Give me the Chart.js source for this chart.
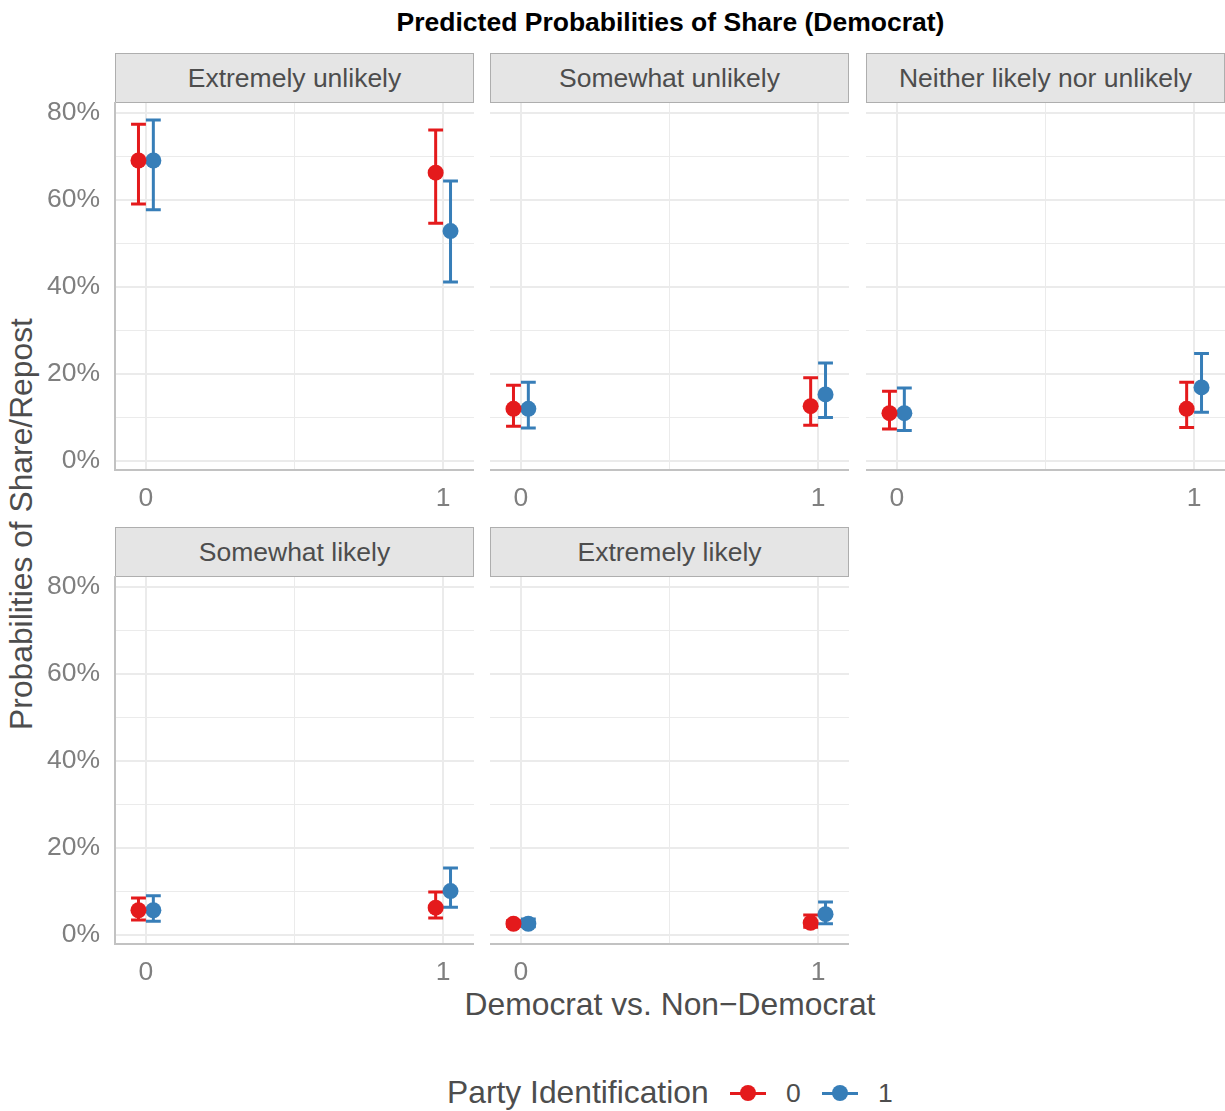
<!DOCTYPE html>
<html>
<head>
<meta charset="utf-8">
<script src="https://cdn.jsdelivr.net/npm/chart.js@4.4.1/dist/chart.umd.min.js"></script>
<style>
html,body{margin:0;padding:0;background:#fff;overflow:hidden;width:1225px;height:1111px;font-family:"Liberation Sans",Arial,sans-serif;}
canvas{position:absolute;}
.strip{position:absolute;box-sizing:border-box;background:#E5E5E5;border:1.5px solid #AEAEAE;color:#4D4D4D;font-size:26.5px;display:flex;align-items:center;justify-content:center;white-space:nowrap;}
.txt{position:absolute;white-space:nowrap;line-height:1;}
</style>
</head>
<body>
<div class="txt" id="title" style="left:0;width:1341px;top:9px;text-align:center;font-weight:bold;font-size:26.5px;color:#000;">Predicted Probabilities of Share (Democrat)</div>
<div class="txt" id="xtitle" style="left:0;width:1340px;top:989px;text-align:center;font-size:31.8px;color:#4D4D4D;">Democrat vs. Non−Democrat</div>
<div class="txt" id="ytitle" style="left:22px;top:523.5px;font-size:31.8px;color:#4D4D4D;transform:translate(-50%,-50%) rotate(-90deg);">Probabilities of Share/Repost</div>
<div id="legend"></div>
<script>
// ---------------- data ----------------
const panels = ["Extremely unlikely", "Somewhat unlikely", "Neither likely nor unlikely", "Somewhat likely", "Extremely likely"];
const xCats = [0, 1];
const partyLabels = ["0", "1"];
const xTickLabels = ["0", "1"];
const yTickLabels = ["0%", "20%", "40%", "60%", "80%"];

// party 0 (red): per panel [x=0, x=1], percent
const party0Est = [[69.0, 66.2], [12.0, 12.6], [11.0, 12.0], [5.7, 6.3], [2.6, 2.8]];
const party0Lo  = [[59.0, 54.6], [8.0, 8.2],   [7.35, 7.7], [3.45, 3.9], [2.0, 1.8]];
const party0Hi  = [[77.35, 76.0], [17.4, 19.1], [16.0, 18.1], [8.5, 9.9], [3.3, 4.6]];
// party 1 (blue)
const party1Est = [[69.0, 52.8], [12.0, 15.3], [11.0, 16.9], [5.7, 10.1], [2.6, 4.8]];
const party1Lo  = [[57.7, 41.1], [7.6, 10.0],  [7.0, 11.2],  [3.2, 6.4],  [1.9, 2.6]];
const party1Hi  = [[78.3, 64.3], [18.1, 22.5], [16.8, 24.7], [9.0, 15.4], [3.7, 7.6]];

// ---------------- styling / layout ----------------
const colors = ["#E41A1C", "#377EB8"];
const dodge = 0.025, capHalf = 0.025;
const colLeft = [115, 490, 866], plotW = 359;
const rowTop = [103, 577], plotH = 367;
const padTop = 40, xAxisH = 50, yAxisW = 115;
const est = [party0Est, party1Est], lo = [party0Lo, party1Lo], hi = [party0Hi, party1Hi];

Chart.defaults.font.family = '"Liberation Sans", Arial, sans-serif';

const errorBarPlugin = {
  id: 'errbars',
  beforeDatasetsDraw(chart) {
    const {ctx, chartArea, scales: {x, y}} = chart;
    ctx.save();
    ctx.beginPath();
    ctx.rect(chartArea.left, chartArea.top, chartArea.right - chartArea.left, chartArea.bottom - chartArea.top);
    ctx.clip();
    chart.data.datasets.forEach(ds => {
      ctx.strokeStyle = ds.borderColor;
      ctx.lineWidth = 3;
      ds.data.forEach((pt, i) => {
        const px = x.getPixelForValue(pt.x);
        const pl = x.getPixelForValue(pt.x - capHalf), pr = x.getPixelForValue(pt.x + capHalf);
        const yl = y.getPixelForValue(ds.lo[i]), yh = y.getPixelForValue(ds.hi[i]);
        ctx.beginPath();
        ctx.moveTo(px, yh); ctx.lineTo(px, yl);
        ctx.moveTo(pl, yh); ctx.lineTo(pr, yh);
        ctx.moveTo(pl, yl); ctx.lineTo(pr, yl);
        ctx.stroke();
      });
    });
    ctx.restore();
  }
};

panels.forEach((name, p) => {
  const col = p % 3, row = Math.floor(p / 3);
  const isLeft = col === 0;
  const cLeft = colLeft[col] - (isLeft ? yAxisW : 0);
  const cTop = rowTop[row] - padTop;
  const cW = (isLeft ? yAxisW : 0) + plotW;
  const cH = padTop + plotH + xAxisH;

  // strip
  const strip = document.createElement('div');
  strip.className = 'strip';
  strip.style.left = colLeft[col] + 'px';
  strip.style.top = (rowTop[row] - 50) + 'px';
  strip.style.width = plotW + 'px';
  strip.style.height = '50px';
  strip.textContent = name;
  document.body.appendChild(strip);

  const cv = document.createElement('canvas');
  cv.width = cW; cv.height = cH;
  cv.style.left = cLeft + 'px'; cv.style.top = cTop + 'px';
  cv.style.width = cW + 'px'; cv.style.height = cH + 'px';
  document.body.appendChild(cv);

  const datasets = [0, 1].map(s => ({
    label: partyLabels[s],
    data: xCats.map((xc, i) => ({x: xc + (s === 0 ? -dodge : dodge), y: est[s][p][i]})),
    lo: lo[s][p], hi: hi[s][p],
    backgroundColor: colors[s], borderColor: colors[s],
    pointRadius: 8, pointHoverRadius: 8, borderWidth: 0
  }));

  new Chart(cv, {
    type: 'scatter',
    data: {datasets},
    plugins: [errorBarPlugin],
    options: {
      responsive: false, animation: false, devicePixelRatio: 1, events: [],
      layout: {autoPadding: false, padding: {top: padTop, left: 0, right: 0, bottom: 0}},
      plugins: {legend: {display: false}, tooltip: {enabled: false}},
      scales: {
        x: {
          type: 'linear', min: -0.104, max: 1.104,
          afterFit: s => { s.height = xAxisH; },
          ticks: {
            stepSize: 0.5, includeBounds: false, padding: 13,
            color: '#7F7F7F', font: {size: 26.5},
            maxRotation: 0, autoSkip: false,
            callback: v => { const k = xCats.indexOf(Math.round(v * 100) / 100); return k >= 0 ? xTickLabels[k] : ''; }
          },
          grid: {
            drawTicks: false, color: '#EBEBEB',
            lineWidth: c => (c.tick && Math.abs(c.tick.value - 0.5) < 1e-6) ? 1 : 2
          },
          border: {display: true, color: '#C2C2C2', width: 2}
        },
        y: {
          type: 'linear', min: -2.05, max: 82.2,
          afterFit: s => { s.width = isLeft ? yAxisW : 0; },
          ticks: {
            display: isLeft, stepSize: 10, includeBounds: false, padding: 15,
            color: '#7F7F7F', font: {size: 26.5},
            callback: v => { const r = Math.round(v); return (r % 20 === 0) ? yTickLabels[r / 20] : ''; }
          },
          grid: {
            drawTicks: false, color: '#EBEBEB',
            lineWidth: c => (c.tick && Math.round(c.tick.value) % 20 === 0) ? 2 : 1
          },
          border: {display: isLeft, color: '#C2C2C2', width: 2}
        }
      }
    }
  });
});

// legend
const leg = document.getElementById('legend');
function addTxt(text, left, size) {
  const d = document.createElement('div');
  d.className = 'txt';
  d.style.left = left + 'px'; d.style.top = (1093 - size * 0.5) + 'px';
  d.style.fontSize = size + 'px'; d.style.color = '#4D4D4D';
  d.textContent = text; leg.appendChild(d);
}
addTxt('Party Identification', 447, 31.8);
const keyCenters = [748, 840], labelLefts = [786, 878];
partyLabels.forEach((lab, s) => {
  const line = document.createElement('div');
  line.style.cssText = `position:absolute;left:${keyCenters[s]-18}px;top:${1093-1.5}px;width:36px;height:3px;background:${colors[s]};`;
  leg.appendChild(line);
  const dot = document.createElement('div');
  dot.style.cssText = `position:absolute;left:${keyCenters[s]-8}px;top:${1093-8}px;width:16px;height:16px;border-radius:50%;background:${colors[s]};`;
  leg.appendChild(dot);
  addTxt(lab, labelLefts[s], 26.5);
});
</script>
</body>
</html>
